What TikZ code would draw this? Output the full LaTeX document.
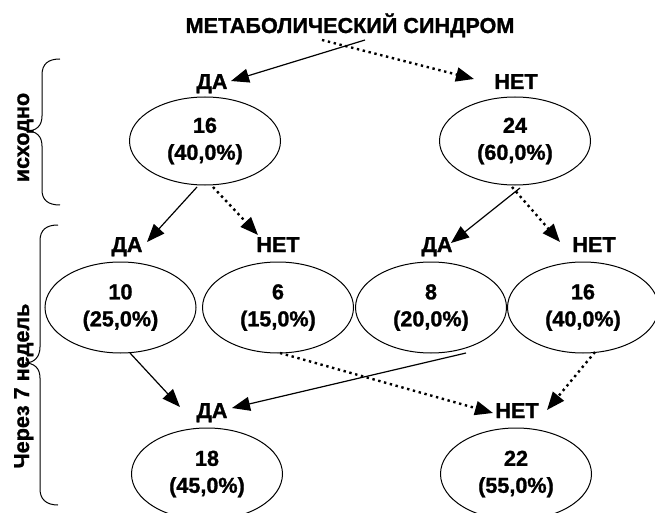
\documentclass[tikz,border=0pt]{standalone}
\usepackage{fontspec}
\setmainfont{Liberation Sans}[BoldFont={Liberation Sans Bold},BoldFeatures={FakeBold=1.2}]
\usetikzlibrary{shapes.geometric,arrows.meta}
\tikzset{
  lbl/.style={anchor=base,inner sep=0pt,font=\fontsize{21.6}{27}\selectfont\bfseries},
  ell/.style={draw,ellipse,line width=1pt,minimum width=151pt,minimum height=88pt,inner sep=0pt,align=center,font=\fontsize{21.6}{27}\selectfont\bfseries},
  arr/.style={line width=1.2pt,-{Triangle[length=18pt,width=14pt]}},
  dotarr/.style={line width=2.4pt,dash pattern=on 2.4pt off 3.6pt,-{Triangle[length=18pt,width=14pt]}},
  brace/.style={line width=1pt},
  side/.style={rotate=90,anchor=base,inner sep=0pt,font=\fontsize{21.6}{27}\selectfont\bfseries}
}
\begin{document}
\begin{tikzpicture}[x=1pt,y=-1pt]
\useasboundingbox (0,0) rectangle (655,513);
% title
\node[lbl] (title) at (350,33) {МЕТАБОЛИЧЕСКИЙ СИНДРОМ};
% row 1
\node[lbl] (yes1) at (212,89) {ДА};
\node[lbl] (no1) at (516,89) {НЕТ};
\node[ell] (e16) at (205,141) {16\\(40,0\%)};
\node[ell] (e24) at (515,141) {24\\(60,0\%)};
% row 2
\node[lbl] (yes2a) at (127,252) {ДА};
\node[lbl] (no2a) at (278,252) {НЕТ};
\node[lbl] (yes2b) at (437,252) {ДА};
\node[lbl] (no2b) at (594,252) {НЕТ};
\node[ell,minimum height=91pt] (e10) at (120.5,307.5) {10\\(25,0\%)};
\node[ell,minimum height=91pt] (e6) at (278,307.5) {6\\(15,0\%)};
\node[ell,minimum height=91pt] (e8) at (431,307.5) {8\\(20,0\%)};
\node[ell,minimum height=91pt] (e16b) at (583,307.5) {16\\(40,0\%)};
% row 3
\node[lbl] (yes3) at (212,418) {ДА};
\node[lbl] (no3) at (517,418) {НЕТ};
\node[ell,minimum height=92pt] (e18) at (207,474) {18\\(45,0\%)};
\node[ell,minimum height=92pt] (e22) at (516,474) {22\\(55,0\%)};
% side labels
\node[side] (s1) at (29,137.5) {исходно};
\node[side] (s2) at (29,386) {Через 7 недель};
% connector ends
\coordinate (t1s) at (365,40); \coordinate (t1e) at (231,81);
\coordinate (t2s) at (322,40); \coordinate (t2e) at (474,79);
\coordinate (a3s) at (197,187); \coordinate (a3e) at (147,242);
\coordinate (a4s) at (213,187); \coordinate (a4e) at (258,235);
\coordinate (a5s) at (520,188); \coordinate (a5e) at (451,243);
\coordinate (a6s) at (512,187); \coordinate (a6e) at (560,242);
\coordinate (a7s) at (130,353); \coordinate (a7e) at (180,407);
\coordinate (a8s) at (466,353); \coordinate (a8e) at (232,408);
\coordinate (a9s) at (280,353); \coordinate (a9e) at (493,413);
\coordinate (a10s) at (595,352); \coordinate (a10e) at (547,410);
\draw[arr] (t1s) -- (t1e);
\draw[dotarr] (t2s) -- (t2e);
\draw[arr] (a3s) -- (a3e);
\draw[dotarr] (a4s) -- (a4e);
\draw[arr] (a5s) -- (a5e);
\draw[dotarr] (a6s) -- (a6e);
\draw[arr] (a7s) -- (a7e);
\draw[arr] (a8s) -- (a8e);
\draw[dotarr] (a9s) -- (a9e);
\draw[dotarr] (a10s) -- (a10e);
% braces
\draw[brace] (60,59) .. controls (48,59) and (42,64) .. (42,75) -- (42,116)
  .. controls (42,126) and (36,131) .. (27,131)
  .. controls (36,131) and (42,136) .. (42,146) -- (42,190)
  .. controls (42,200) and (48,205) .. (60,205);
\draw[brace] (58,225) .. controls (46,225) and (40,230) .. (40,241) -- (40,347)
  .. controls (40,357) and (34,363) .. (25,363)
  .. controls (34,363) and (40,368) .. (40,378) -- (40,489)
  .. controls (40,499) and (46,505) .. (58,505);
\end{tikzpicture}
\end{document}
